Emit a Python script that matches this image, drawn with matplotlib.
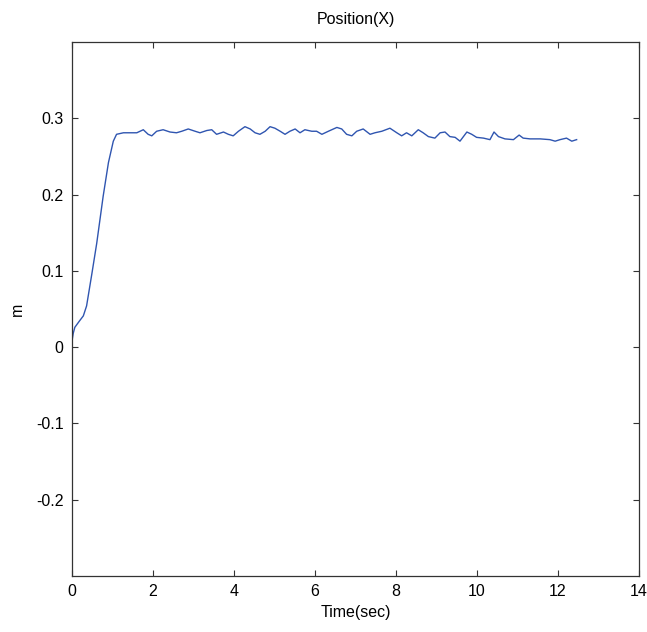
#!/usr/bin/env python3
import numpy as np
import matplotlib
matplotlib.use('Agg')
import matplotlib.pyplot as plt
from matplotlib import font_manager

names = {f.name for f in font_manager.fontManager.ttflist}
fam = [n for n in ['Liberation Sans Narrow', 'Liberation Sans', 'DejaVu Sans'] if n in names]
plt.rcParams['font.family'] = fam

# values (seconds, metres)
time_s = [0.0, 0.03, 0.07, 0.18, 0.28, 0.36, 0.49, 0.61, 0.77, 0.90, 1.02, 1.10,
          1.27, 1.40, 1.60, 1.76, 1.88, 1.97, 2.09, 2.25, 2.42, 2.58, 2.71, 2.87,
          3.04, 3.16, 3.33, 3.45, 3.57, 3.74, 3.86, 3.98, 4.11, 4.27, 4.40, 4.52,
          4.64, 4.77, 4.89, 5.01, 5.14, 5.26, 5.38, 5.51, 5.63, 5.75, 5.92, 6.04,
          6.17, 6.33, 6.54, 6.66, 6.78, 6.91, 7.03, 7.19, 7.36, 7.48, 7.65, 7.85,
          8.02, 8.14, 8.26, 8.39, 8.55, 8.67, 8.80, 8.96, 9.09, 9.21, 9.33, 9.46,
          9.58, 9.75, 9.87, 9.99, 10.16, 10.32, 10.42, 10.53, 10.69, 10.90, 11.04,
          11.14, 11.31, 11.56, 11.80, 11.93, 12.05, 12.21, 12.34, 12.46]
pos_x = [0.008, 0.018, 0.026, 0.034, 0.041, 0.054, 0.096, 0.136, 0.198, 0.242, 0.270, 0.279,
         0.281, 0.281, 0.281, 0.285, 0.279, 0.277, 0.283, 0.285, 0.282, 0.281, 0.283, 0.286,
         0.283, 0.281, 0.284, 0.285, 0.279, 0.282, 0.279, 0.277, 0.283, 0.289, 0.286, 0.281,
         0.279, 0.283, 0.289, 0.287, 0.283, 0.279, 0.283, 0.286, 0.281, 0.285, 0.283, 0.283,
         0.279, 0.283, 0.288, 0.286, 0.279, 0.277, 0.283, 0.286, 0.279, 0.281, 0.283, 0.287,
         0.281, 0.277, 0.281, 0.277, 0.285, 0.281, 0.276, 0.274, 0.281, 0.282, 0.276, 0.275,
         0.270, 0.282, 0.279, 0.275, 0.274, 0.272, 0.282, 0.276, 0.273, 0.272, 0.278,
         0.274, 0.273, 0.273, 0.272, 0.270, 0.272, 0.274, 0.270, 0.272]

x_ticks = [0, 2, 4, 6, 8, 10, 12, 14]
y_ticks = [-0.2, -0.1, 0, 0.1, 0.2, 0.3]
y_tick_labels = ['-0.2', '-0.1', '0', '0.1', '0.2', '0.3']


def main():
    fig = plt.figure(figsize=(6.47, 6.32), dpi=100)
    ax = fig.add_axes([72/647, 56/632, 567/647, 534/632])
    ax.plot(time_s, pos_x, color='#2f55b0', lw=1.0)
    ax.set_xlim(0, 14)
    ax.set_ylim(-0.3, 0.4)
    ax.set_xticks(x_ticks)
    ax.set_yticks(y_ticks)
    ax.set_yticklabels(y_tick_labels)
    ax.tick_params(direction='in', length=4.5, width=0.8, top=True, right=True,
                   labelsize=11.5, colors='#333333', labelcolor='black', pad=6)
    for s in ax.spines.values():
        s.set_linewidth(0.9)
        s.set_color('#333333')
    ax.set_title('Position(X)', fontsize=11.5, pad=13)
    ax.set_xlabel('Time(sec)', fontsize=11.5, labelpad=4)
    ax.set_ylabel('m', fontsize=11.5, labelpad=8)
    fig.savefig('out.png', dpi=100)


if __name__ == '__main__':
    main()
